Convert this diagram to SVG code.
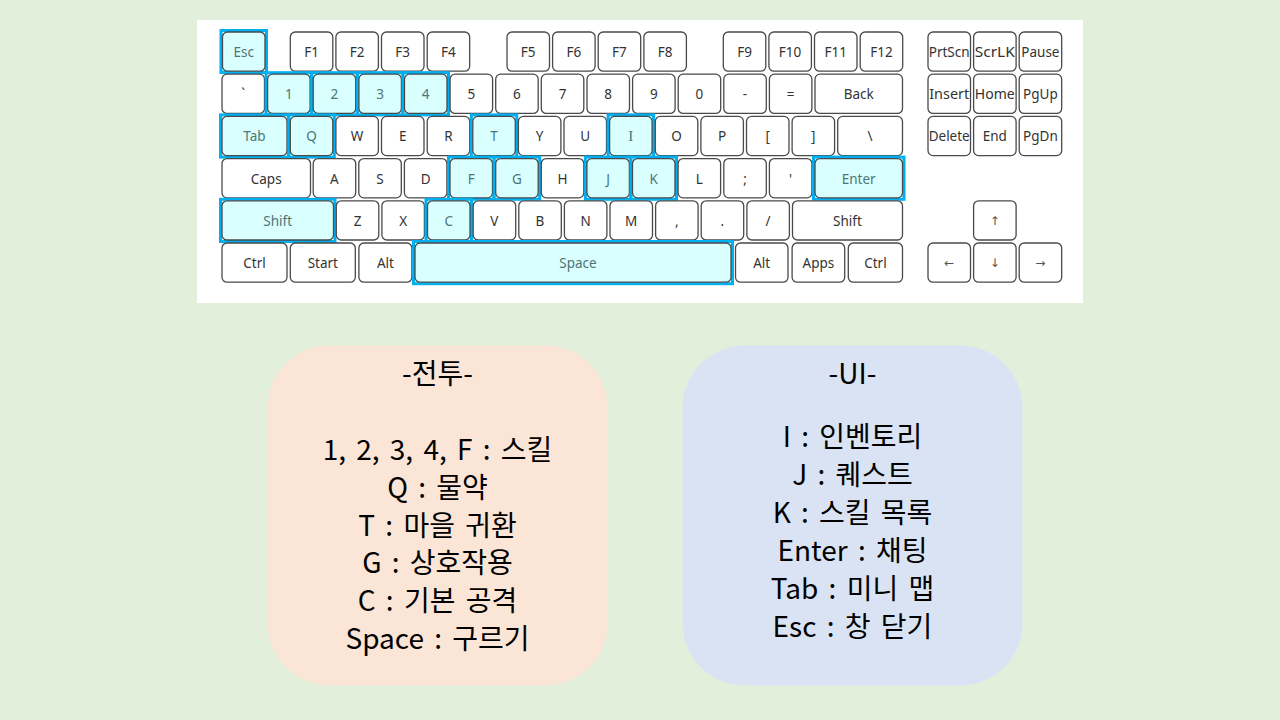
<svg xmlns="http://www.w3.org/2000/svg" width="1280" height="720" viewBox="0 0 1280 720">
<style>
.k{fill:#fff;stroke:#4a4a4a;stroke-width:1.3}
.hk{fill:#d9ffff;stroke:#4a4a4a;stroke-width:1.3}
.hb{fill:#d9ffff;stroke:#00b0f0;stroke-width:3}
.t{font-family:"Noto Sans","Open Sans",sans-serif;font-size:13.5px;fill:#333;text-anchor:middle}
.ht{font-family:"Noto Sans","Open Sans",sans-serif;font-size:13.5px;fill:#4f7575;text-anchor:middle}
.a{font-family:"DejaVu Sans",sans-serif;font-size:12px;fill:#555;text-anchor:middle}
.big{font-family:"Noto Sans CJK KR","Noto Sans",sans-serif;font-size:28px;fill:#000;text-anchor:middle;word-spacing:4px}
</style>
<rect width="1280" height="720" fill="#e2efda"/>
<rect id="keyboard-bg" x="197" y="20" width="886" height="283" fill="#fff"/>
<g id="keys">
<!-- Row 1 -->
<g id="key-esc"><rect class="hb" x="221" y="30.5" width="45.5" height="42"/><rect class="hk" x="222.5" y="32" width="42.5" height="39.2" rx="5"/><text class="ht" x="243.7" y="57">Esc</text></g>
<g id="key-f1"><rect class="k" x="290.3" y="32" width="42.5" height="39.2" rx="5"/><text class="t" x="311.5" y="57">F1</text></g>
<g id="key-f2"><rect class="k" x="335.9" y="32" width="42.5" height="39.2" rx="5"/><text class="t" x="357.1" y="57">F2</text></g>
<g id="key-f3"><rect class="k" x="381.5" y="32" width="42.5" height="39.2" rx="5"/><text class="t" x="402.7" y="57">F3</text></g>
<g id="key-f4"><rect class="k" x="427.2" y="32" width="42.5" height="39.2" rx="5"/><text class="t" x="448.4" y="57">F4</text></g>
<g id="key-f5"><rect class="k" x="507" y="32" width="42.5" height="39.2" rx="5"/><text class="t" x="528.2" y="57">F5</text></g>
<g id="key-f6"><rect class="k" x="552.6" y="32" width="42.5" height="39.2" rx="5"/><text class="t" x="573.8" y="57">F6</text></g>
<g id="key-f7"><rect class="k" x="598.2" y="32" width="42.5" height="39.2" rx="5"/><text class="t" x="619.4" y="57">F7</text></g>
<g id="key-f8"><rect class="k" x="643.9" y="32" width="42.5" height="39.2" rx="5"/><text class="t" x="665.1" y="57">F8</text></g>
<g id="key-f9"><rect class="k" x="723.3" y="32" width="42.5" height="39.2" rx="5"/><text class="t" x="744.5" y="57">F9</text></g>
<g id="key-f10"><rect class="k" x="768.9" y="32" width="42.5" height="39.2" rx="5"/><text class="t" x="790.1" y="57">F10</text></g>
<g id="key-f11"><rect class="k" x="814.5" y="32" width="42.5" height="39.2" rx="5"/><text class="t" x="835.7" y="57">F11</text></g>
<g id="key-f12"><rect class="k" x="860.2" y="32" width="42.5" height="39.2" rx="5"/><text class="t" x="881.4" y="57">F12</text></g>
<g id="key-prtscn"><rect class="k" x="928" y="32" width="42.5" height="39.2" rx="5"/><text class="t" x="949.2" y="57" textLength="41" lengthAdjust="spacingAndGlyphs">PrtScn</text></g>
<g id="key-scrlk"><rect class="k" x="973.6" y="32" width="42.5" height="39.2" rx="5"/><text class="t" x="994.8" y="57" textLength="40" lengthAdjust="spacingAndGlyphs">ScrLK</text></g>
<g id="key-pause"><rect class="k" x="1019.2" y="32" width="42.5" height="39.2" rx="5"/><text class="t" x="1040.4" y="57">Pause</text></g>
<!-- Row 2 -->
<g id="key-grave"><rect class="k" x="222" y="74.2" width="42.5" height="39.2" rx="5"/><text class="t" x="243.2" y="99.2">`</text></g>
<g id="key-1"><rect class="hb" x="266.1" y="72.7" width="45.5" height="42.2"/><rect class="hk" x="267.6" y="74.2" width="42.5" height="39.2" rx="5"/><text class="ht" x="288.8" y="99.2">1</text></g>
<g id="key-2"><rect class="hb" x="311.7" y="72.7" width="45.5" height="42.2"/><rect class="hk" x="313.2" y="74.2" width="42.5" height="39.2" rx="5"/><text class="ht" x="334.4" y="99.2">2</text></g>
<g id="key-3"><rect class="hb" x="357.4" y="72.7" width="45.5" height="42.2"/><rect class="hk" x="358.9" y="74.2" width="42.5" height="39.2" rx="5"/><text class="ht" x="380.1" y="99.2">3</text></g>
<g id="key-4"><rect class="hb" x="403" y="72.7" width="45.5" height="42.2"/><rect class="hk" x="404.5" y="74.2" width="42.5" height="39.2" rx="5"/><text class="ht" x="425.7" y="99.2">4</text></g>
<g id="key-5"><rect class="k" x="450.1" y="74.2" width="42.5" height="39.2" rx="5"/><text class="t" x="471.3" y="99.2">5</text></g>
<g id="key-6"><rect class="k" x="495.7" y="74.2" width="42.5" height="39.2" rx="5"/><text class="t" x="516.9" y="99.2">6</text></g>
<g id="key-7"><rect class="k" x="541.3" y="74.2" width="42.5" height="39.2" rx="5"/><text class="t" x="562.5" y="99.2">7</text></g>
<g id="key-8"><rect class="k" x="587" y="74.2" width="42.5" height="39.2" rx="5"/><text class="t" x="608.2" y="99.2">8</text></g>
<g id="key-9"><rect class="k" x="632.6" y="74.2" width="42.5" height="39.2" rx="5"/><text class="t" x="653.8" y="99.2">9</text></g>
<g id="key-0"><rect class="k" x="678.2" y="74.2" width="42.5" height="39.2" rx="5"/><text class="t" x="699.4" y="99.2">0</text></g>
<g id="key-minus"><rect class="k" x="723.8" y="74.2" width="42.5" height="39.2" rx="5"/><text class="t" x="745" y="99.2">-</text></g>
<g id="key-equal"><rect class="k" x="769.4" y="74.2" width="42.5" height="39.2" rx="5"/><text class="t" x="790.6" y="99.2">=</text></g>
<g id="key-back"><rect class="k" x="815" y="74.2" width="87.5" height="39.2" rx="5"/><text class="t" x="858.7" y="99.2">Back</text></g>
<g id="key-insert"><rect class="k" x="928" y="74.2" width="42.5" height="39.2" rx="5"/><text class="t" x="949.2" y="99.2" textLength="40" lengthAdjust="spacingAndGlyphs">Insert</text></g>
<g id="key-home"><rect class="k" x="973.6" y="74.2" width="42.5" height="39.2" rx="5"/><text class="t" x="994.8" y="99.2" textLength="40" lengthAdjust="spacingAndGlyphs">Home</text></g>
<g id="key-pgup"><rect class="k" x="1019.2" y="74.2" width="42.5" height="39.2" rx="5"/><text class="t" x="1040.4" y="99.2">PgUp</text></g>
<!-- Row 3 -->
<g id="key-tab"><rect class="hb" x="220.5" y="114.9" width="68" height="42.2"/><rect class="hk" x="222" y="116.4" width="65" height="39.2" rx="5"/><text class="ht" x="254.5" y="141.4">Tab</text></g>
<g id="key-q"><rect class="hb" x="288.8" y="114.9" width="45.5" height="42.2"/><rect class="hk" x="290.3" y="116.4" width="42.5" height="39.2" rx="5"/><text class="ht" x="311.5" y="141.4">Q</text></g>
<g id="key-w"><rect class="k" x="335.9" y="116.4" width="42.5" height="39.2" rx="5"/><text class="t" x="357.1" y="141.4">W</text></g>
<g id="key-e"><rect class="k" x="381.5" y="116.4" width="42.5" height="39.2" rx="5"/><text class="t" x="402.7" y="141.4">E</text></g>
<g id="key-r"><rect class="k" x="427.2" y="116.4" width="42.5" height="39.2" rx="5"/><text class="t" x="448.4" y="141.4">R</text></g>
<g id="key-t"><rect class="hb" x="471.3" y="114.9" width="45.5" height="42.2"/><rect class="hk" x="472.8" y="116.4" width="42.5" height="39.2" rx="5"/><text class="ht" x="494" y="141.4">T</text></g>
<g id="key-y"><rect class="k" x="518.4" y="116.4" width="42.5" height="39.2" rx="5"/><text class="t" x="539.6" y="141.4">Y</text></g>
<g id="key-u"><rect class="k" x="564" y="116.4" width="42.5" height="39.2" rx="5"/><text class="t" x="585.2" y="141.4">U</text></g>
<g id="key-i"><rect class="hb" x="608.1" y="114.9" width="45.5" height="42.2"/><rect class="hk" x="609.6" y="116.4" width="42.5" height="39.2" rx="5"/><text class="ht" x="630.8" y="141.4" style="font-family:'Liberation Serif',serif;font-size:15px">I</text></g>
<g id="key-o"><rect class="k" x="655.3" y="116.4" width="42.5" height="39.2" rx="5"/><text class="t" x="676.5" y="141.4">O</text></g>
<g id="key-p"><rect class="k" x="700.9" y="116.4" width="42.5" height="39.2" rx="5"/><text class="t" x="722.1" y="141.4">P</text></g>
<g id="key-lbracket"><rect class="k" x="746.5" y="116.4" width="42.5" height="39.2" rx="5"/><text class="t" x="767.7" y="141.4">[</text></g>
<g id="key-rbracket"><rect class="k" x="792.1" y="116.4" width="42.5" height="39.2" rx="5"/><text class="t" x="813.3" y="141.4">]</text></g>
<g id="key-backslash"><rect class="k" x="837.7" y="116.4" width="64.8" height="39.2" rx="5"/><text class="t" x="870.1" y="141.4">\</text></g>
<g id="key-delete"><rect class="k" x="928" y="116.4" width="42.5" height="39.2" rx="5"/><text class="t" x="949.2" y="141.4" textLength="41" lengthAdjust="spacingAndGlyphs">Delete</text></g>
<g id="key-end"><rect class="k" x="973.6" y="116.4" width="42.5" height="39.2" rx="5"/><text class="t" x="994.8" y="141.4">End</text></g>
<g id="key-pgdn"><rect class="k" x="1019.2" y="116.4" width="42.5" height="39.2" rx="5"/><text class="t" x="1040.4" y="141.4">PgDn</text></g>
<!-- Row 4 -->
<g id="key-caps"><rect class="k" x="222" y="158.6" width="88.5" height="39.2" rx="5"/><text class="t" x="266.2" y="183.6">Caps</text></g>
<g id="key-a"><rect class="k" x="313.2" y="158.6" width="42.5" height="39.2" rx="5"/><text class="t" x="334.4" y="183.6">A</text></g>
<g id="key-s"><rect class="k" x="358.8" y="158.6" width="42.5" height="39.2" rx="5"/><text class="t" x="380" y="183.6">S</text></g>
<g id="key-d"><rect class="k" x="404.4" y="158.6" width="42.5" height="39.2" rx="5"/><text class="t" x="425.6" y="183.6">D</text></g>
<g id="key-f"><rect class="hb" x="448.5" y="157.1" width="45.5" height="42.2"/><rect class="hk" x="450" y="158.6" width="42.5" height="39.2" rx="5"/><text class="ht" x="471.2" y="183.6">F</text></g>
<g id="key-g"><rect class="hb" x="494.2" y="157.1" width="45.5" height="42.2"/><rect class="hk" x="495.7" y="158.6" width="42.5" height="39.2" rx="5"/><text class="ht" x="516.9" y="183.6">G</text></g>
<g id="key-h"><rect class="k" x="541.3" y="158.6" width="42.5" height="39.2" rx="5"/><text class="t" x="562.5" y="183.6">H</text></g>
<g id="key-j"><rect class="hb" x="585.4" y="157.1" width="45.5" height="42.2"/><rect class="hk" x="586.9" y="158.6" width="42.5" height="39.2" rx="5"/><text class="ht" x="608.1" y="183.6">J</text></g>
<g id="key-k"><rect class="hb" x="631" y="157.1" width="45.5" height="42.2"/><rect class="hk" x="632.5" y="158.6" width="42.5" height="39.2" rx="5"/><text class="ht" x="653.7" y="183.6">K</text></g>
<g id="key-l"><rect class="k" x="678.1" y="158.6" width="42.5" height="39.2" rx="5"/><text class="t" x="699.3" y="183.6">L</text></g>
<g id="key-semicolon"><rect class="k" x="723.8" y="158.6" width="42.5" height="39.2" rx="5"/><text class="t" x="745" y="183.6">;</text></g>
<g id="key-quote"><rect class="k" x="769.4" y="158.6" width="42.5" height="39.2" rx="5"/><text class="t" x="790.6" y="183.6">'</text></g>
<g id="key-enter"><rect class="hb" x="813.5" y="157.1" width="90.5" height="42.2"/><rect class="hk" x="815" y="158.6" width="87.5" height="39.2" rx="5"/><text class="ht" x="858.7" y="183.6">Enter</text></g>
<!-- Row 5 -->
<g id="key-lshift"><rect class="hb" x="220.5" y="199.3" width="114.5" height="42.2"/><rect class="hk" x="222" y="200.8" width="111.5" height="39.2" rx="5"/><text class="ht" x="277.7" y="225.8">Shift</text></g>
<g id="key-z"><rect class="k" x="336.3" y="200.8" width="42.5" height="39.2" rx="5"/><text class="t" x="357.5" y="225.8">Z</text></g>
<g id="key-x"><rect class="k" x="381.9" y="200.8" width="42.5" height="39.2" rx="5"/><text class="t" x="403.1" y="225.8">X</text></g>
<g id="key-c"><rect class="hb" x="426" y="199.3" width="45.5" height="42.2"/><rect class="hk" x="427.5" y="200.8" width="42.5" height="39.2" rx="5"/><text class="ht" x="448.7" y="225.8">C</text></g>
<g id="key-v"><rect class="k" x="473.2" y="200.8" width="42.5" height="39.2" rx="5"/><text class="t" x="494.4" y="225.8">V</text></g>
<g id="key-b"><rect class="k" x="518.8" y="200.8" width="42.5" height="39.2" rx="5"/><text class="t" x="540" y="225.8">B</text></g>
<g id="key-n"><rect class="k" x="564.4" y="200.8" width="42.5" height="39.2" rx="5"/><text class="t" x="585.6" y="225.8">N</text></g>
<g id="key-m"><rect class="k" x="610" y="200.8" width="42.5" height="39.2" rx="5"/><text class="t" x="631.2" y="225.8">M</text></g>
<g id="key-comma"><rect class="k" x="655.6" y="200.8" width="42.5" height="39.2" rx="5"/><text class="t" x="676.8" y="225.8">,</text></g>
<g id="key-period"><rect class="k" x="701.2" y="200.8" width="42.5" height="39.2" rx="5"/><text class="t" x="722.4" y="225.8">.</text></g>
<g id="key-slash"><rect class="k" x="746.9" y="200.8" width="42.5" height="39.2" rx="5"/><text class="t" x="768.1" y="225.8">/</text></g>
<g id="key-rshift"><rect class="k" x="792.5" y="200.8" width="110" height="39.2" rx="5"/><text class="t" x="847.5" y="225.8">Shift</text></g>
<g id="key-up"><rect class="k" x="973.6" y="200.8" width="42.5" height="39.2" rx="5"/><text class="a" x="994.8" y="225">↑</text></g>
<!-- Row 6 -->
<g id="key-lctrl"><rect class="k" x="222" y="243" width="65" height="39.2" rx="5"/><text class="t" x="254.5" y="268">Ctrl</text></g>
<g id="key-start"><rect class="k" x="290.3" y="243" width="65" height="39.2" rx="5"/><text class="t" x="322.8" y="268">Start</text></g>
<g id="key-lalt"><rect class="k" x="358.9" y="243" width="53" height="39.2" rx="5"/><text class="t" x="385.4" y="268">Alt</text></g>
<g id="key-space"><rect class="hb" x="413.5" y="241.5" width="319" height="42.2"/><rect class="hk" x="415" y="243" width="316" height="39.2" rx="5"/><text class="ht" x="578" y="268">Space</text></g>
<g id="key-ralt"><rect class="k" x="735.5" y="243" width="52.5" height="39.2" rx="5"/><text class="t" x="761.7" y="268">Alt</text></g>
<g id="key-apps"><rect class="k" x="792.1" y="243" width="52.6" height="39.2" rx="5"/><text class="t" x="818.4" y="268">Apps</text></g>
<g id="key-rctrl"><rect class="k" x="848.3" y="243" width="54.2" height="39.2" rx="5"/><text class="t" x="875.4" y="268">Ctrl</text></g>
<g id="key-left"><rect class="k" x="928" y="243" width="42.5" height="39.2" rx="5"/><text class="a" x="949.2" y="267">←</text></g>
<g id="key-down"><rect class="k" x="973.6" y="243" width="42.5" height="39.2" rx="5"/><text class="a" x="994.8" y="267">↓</text></g>
<g id="key-right"><rect class="k" x="1019.2" y="243" width="42.5" height="39.2" rx="5"/><text class="a" x="1040.4" y="267">→</text></g>
</g>
<g id="combat-box">
<rect x="267.5" y="345.5" width="340" height="340" rx="62" fill="#fbe5d6"/>
<text class="big" x="437.5" y="384">-전투-</text>
<text class="big" x="437.5" y="460">1, 2, 3, 4, F : 스킬</text>
<text class="big" x="437.5" y="498">Q : 물약</text>
<text class="big" x="437.5" y="536">T : 마을 귀환</text>
<text class="big" x="437.5" y="573">G : 상호작용</text>
<text class="big" x="437.5" y="611">C : 기본 공격</text>
<text class="big" x="437.5" y="649">Space : 구르기</text>
</g>
<g id="ui-box">
<rect x="682.5" y="345.5" width="340" height="340" rx="62" fill="#dae3f3"/>
<text class="big" x="852.5" y="384">-UI-</text>
<text class="big" x="852.5" y="447">I : 인벤토리</text>
<text class="big" x="852.5" y="485">J : 퀘스트</text>
<text class="big" x="852.5" y="523">K : 스킬 목록</text>
<text class="big" x="852.5" y="561">Enter : 채팅</text>
<text class="big" x="852.5" y="599">Tab : 미니 맵</text>
<text class="big" x="852.5" y="637">Esc : 창 닫기</text>
</g>
</svg>
